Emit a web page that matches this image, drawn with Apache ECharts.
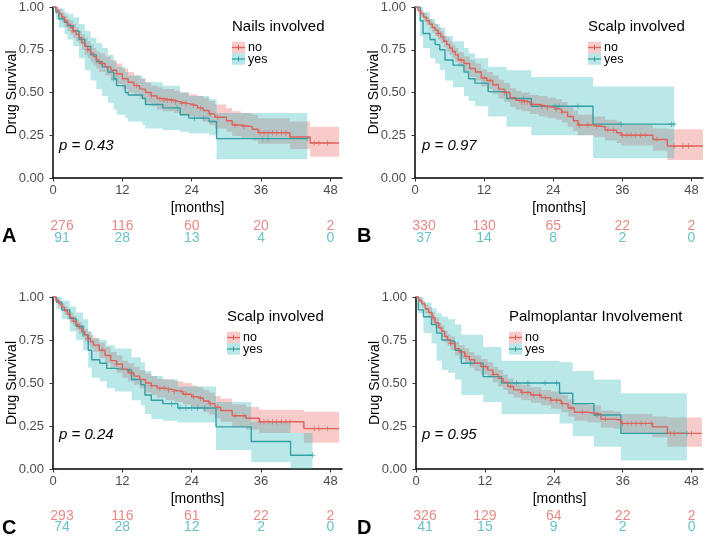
<!DOCTYPE html>
<html><head><meta charset="utf-8">
<script src="https://cdn.jsdelivr.net/npm/echarts@6/dist/echarts.min.js"></script>
<style>html,body{margin:0;padding:0;background:#fff}#c{width:710px;height:538px}</style>
</head><body><div id="c"></div>
<script>
// ---------- tick labels / breaks ----------
const timeBreaks = [0, 12, 24, 36, 48];
const survTicks = [0, 0.25, 0.5, 0.75, 1];

// ---------- Panel A : Nails involved ----------
const A_noT  = [0,0.5,1,1.5,2,2.5,3,3.5,4,4.5,5,5.5,6,6.5,7,7.5,8,9,10,11,12,13,14,15,16,17,18,19,21,22,23.5,25,26,27,28,30,31,32.5,34.5,35.5,41,44.5,49.5];
const A_noS  = [1,.98,.96,.94,.92,.90,.88,.86,.84,.82,.79,.77,.75,.73,.71,.69,.67,.65,.63,.61,.58,.56,.54,.52,.50,.48,.465,.455,.445,.435,.425,.41,.395,.375,.355,.335,.31,.30,.285,.265,.24,.205,.205];
const A_noLo = [1,.96,.93,.91,.88,.86,.84,.82,.80,.78,.75,.72,.70,.68,.66,.64,.62,.60,.57,.55,.52,.50,.48,.46,.44,.42,.40,.39,.38,.37,.36,.345,.33,.31,.29,.27,.245,.235,.22,.20,.17,.125,.125];
const A_noHi = [1,1,.99,.97,.95,.93,.92,.90,.88,.86,.84,.82,.80,.78,.76,.74,.73,.71,.69,.67,.64,.62,.60,.58,.56,.54,.53,.52,.51,.50,.49,.48,.47,.45,.43,.41,.39,.38,.37,.35,.33,.30,.30];
const A_noCens = [3.5,6,8.5,11,14.5,17,18.5,19.2,19.8,20.5,21.2,22.3,23,24.3,25.5,27.2,28.5,31.5,33,35.8,36.5,37.2,38,38.7,39.5,40.3,45.2,46,47.5];
const A_yesT  = [0,0.5,1,2,2.5,3.5,4.5,5.5,6.5,7.5,8.5,9.5,10.5,11,12.5,13,15.5,16,19,22,23.5,27,28.3,44];
const A_yesS  = [1,.97,.93,.91,.89,.86,.81,.77,.72,.68,.65,.62,.58,.54,.50,.485,.465,.43,.41,.37,.35,.33,.23,.23];
const A_yesLo = [1,.93,.88,.84,.81,.77,.70,.63,.57,.52,.48,.44,.40,.37,.35,.33,.31,.29,.28,.27,.26,.25,.11,.11];
const A_yesHi = [1,1,.99,.97,.96,.94,.90,.86,.82,.79,.76,.72,.68,.65,.62,.60,.58,.56,.54,.50,.48,.46,.38,.38];
const A_yesCens = [10.5,21.5,24.5,26,36.3,37.2,44];
const A_riskNo  = [276,116,60,20,2];
const A_riskYes = [91,28,13,4,0];

// ---------- Panel B : Scalp involved ----------
const B_noT  = [0,0.5,1,1.5,2,2.5,3,3.5,4,4.5,5,5.5,6,6.5,7,7.5,8.5,9.5,10.5,11.5,12.5,13.5,14.5,15.5,16.5,17.5,18.5,20,21.5,23,24.5,25.5,26.5,27.5,28.3,31,33,35,35.8,41.3,43.8,50];
const B_noS  = [1,.98,.96,.94,.92,.90,.88,.865,.845,.825,.80,.78,.76,.74,.72,.69,.67,.64,.62,.585,.57,.545,.52,.50,.47,.455,.445,.43,.42,.41,.40,.385,.36,.335,.31,.30,.28,.265,.25,.225,.187,.187];
const B_noLo = [1,.965,.94,.915,.895,.87,.85,.83,.81,.79,.765,.74,.72,.70,.68,.65,.62,.59,.57,.535,.52,.49,.465,.445,.415,.40,.39,.375,.36,.35,.34,.325,.30,.275,.25,.24,.22,.205,.19,.16,.105,.105];
const B_noHi = [1,.995,.98,.965,.945,.93,.91,.90,.88,.86,.835,.82,.80,.78,.76,.735,.71,.69,.67,.635,.62,.60,.575,.555,.525,.51,.50,.485,.48,.47,.46,.445,.42,.395,.37,.36,.34,.33,.31,.29,.285,.285];
const B_noCens = [4,8,12,13,15.5,18.5,19,19.5,20.5,22,23,24.5,25.5,28.5,30,31.5,33.5,34.5,36,36.8,37.5,38.3,39.2,40,42,45,46.5,47.5];
const B_yesT  = [0,0.9,1.4,2.6,3.5,4.3,5.2,6.6,8.5,9.3,10.4,12.7,15.9,20.2,30.9,45];
const B_yesS  = [1,.92,.845,.81,.78,.75,.69,.66,.62,.58,.555,.505,.465,.42,.315,.315];
const B_yesLo = [1,.83,.76,.70,.67,.63,.57,.53,.48,.45,.42,.36,.30,.25,.115,.115];
const B_yesHi = [1,1,.97,.93,.90,.88,.83,.80,.76,.73,.70,.65,.63,.59,.535,.535];
const B_yesCens = [18.8,24.3,25,28.3,35.8,44.5,45];
const B_riskNo  = [330,130,65,22,2];
const B_riskYes = [37,14,8,2,0];

// ---------- Panel C : Scalp involved ----------
const C_noT  = [0,0.5,1,1.5,2,2.5,3,3.5,4,4.5,5,5.5,6,6.5,7,8,9,10,11,12,13,14,15,16,17,18,19.5,21,22.5,24,25,26,27,28,29,31,33.4,35.7,43.4,49.5];
const C_noS  = [1,.98,.96,.94,.92,.90,.88,.86,.84,.82,.80,.78,.76,.74,.72,.69,.66,.63,.61,.58,.56,.54,.52,.50,.485,.47,.46,.45,.435,.42,.41,.395,.38,.36,.34,.31,.295,.275,.235,.235];
const C_noLo = [1,.965,.94,.915,.895,.87,.85,.83,.81,.785,.765,.74,.72,.70,.68,.645,.615,.585,.56,.53,.51,.49,.47,.445,.43,.415,.40,.39,.375,.36,.35,.33,.315,.295,.275,.245,.23,.21,.153,.153];
const C_noHi = [1,.995,.98,.965,.945,.93,.91,.89,.87,.855,.835,.815,.80,.78,.76,.735,.71,.68,.66,.63,.615,.595,.575,.555,.54,.525,.52,.51,.50,.485,.475,.46,.445,.425,.41,.375,.36,.345,.333,.333];
const C_noCens = [3.5,6,8.5,11,13.5,17,18.5,19.2,20,21,22.3,23,24.3,25.5,27.2,28.5,31.5,33,35.8,36.5,37.2,38,38.7,39.5,40.3,41,45.2,46,47.5];
const C_yesT  = [0,0.6,1.5,2.9,4,5.2,6.1,6.7,8.1,9.3,10.7,13.6,15.2,15.9,17,19,21.6,28.2,34.3,41.1,44.9];
const C_yesS  = [1,.97,.925,.875,.83,.78,.69,.635,.615,.585,.575,.52,.49,.43,.40,.38,.355,.245,.16,.08,.08];
const C_yesLo = [1,.93,.87,.80,.75,.69,.59,.53,.51,.47,.45,.40,.37,.32,.29,.28,.27,.11,.04,0,0];
const C_yesHi = [1,1,.98,.945,.91,.87,.80,.76,.75,.72,.70,.65,.62,.57,.54,.52,.48,.39,.275,.21,.21];
const C_yesCens = [13.2,20.5,22,23,24,25,26.2,44.9];
const C_riskNo  = [293,116,61,22,2];
const C_riskYes = [74,28,12,2,0];

// ---------- Panel D : Palmoplantar Involvement ----------
const D_noT  = [0,0.5,1,1.6,2.2,2.8,3.3,4,4.5,5,5.5,6,6.8,7.5,8.5,9.3,10.2,11.3,12.5,13.4,14.3,15.2,16,17,18.3,20,21.8,23.5,25.3,26.5,27.6,29.9,32.2,34.5,35.7,41.2,43.8,49.8];
const D_noS  = [1,.98,.96,.93,.91,.88,.85,.82,.80,.77,.75,.73,.70,.68,.655,.635,.615,.595,.575,.55,.527,.505,.48,.46,.445,.43,.415,.40,.38,.355,.33,.32,.29,.285,.265,.245,.207,.207];
const D_noLo = [1,.965,.94,.905,.88,.85,.82,.79,.765,.735,.715,.69,.66,.64,.61,.59,.57,.55,.53,.505,.48,.46,.435,.415,.40,.385,.37,.35,.33,.305,.28,.27,.24,.235,.21,.185,.13,.13];
const D_noHi = [1,.995,.98,.955,.94,.91,.88,.85,.835,.805,.785,.77,.74,.72,.70,.68,.66,.64,.62,.595,.575,.55,.525,.505,.49,.475,.46,.45,.43,.405,.38,.37,.34,.335,.32,.305,.30,.30];
const D_noCens = [3,6,8.7,12.2,13.5,16.5,18.5,19.5,20.5,21.5,22.5,23.5,24.5,25.5,27,29,31.5,33,36,36.8,37.5,38.3,39.2,40,41,44.3,45,48];
const D_yesT  = [0,0.4,1.3,2.7,3.6,4.5,5.6,6.8,7.9,11.7,14.9,25,27.3,31,35.7,47.2];
const D_yesS  = [1,.925,.885,.84,.79,.75,.74,.69,.615,.537,.50,.44,.38,.314,.207,.207];
const D_yesLo = [1,.905,.79,.73,.63,.575,.56,.52,.43,.39,.32,.265,.19,.13,.05,.05];
const D_yesHi = [1,1,.97,.935,.905,.885,.87,.84,.78,.71,.63,.62,.57,.52,.44,.44];
const D_yesCens = [9.5,17.5,19.5,22.5,24.5,31.5,47.2];
const D_riskNo  = [326,129,64,22,2];
const D_riskYes = [41,15,9,2,0];

const panelTitles = ['Nails involved', 'Scalp involved', 'Scalp involved', 'Palmoplantar Involvement'];
const pValues = ['0.43', '0.97', '0.24', '0.95'];
const panelLetters = ['A', 'B', 'C', 'D'];

// ---------- styling / layout ----------
const FONT = '"Liberation Sans", Arial, Helvetica, sans-serif';
const RED = '#DF625A', TEAL = '#34A0A5';
const RED_F = 'rgba(232,110,104,0.36)', TEAL_F = 'rgba(40,180,185,0.32)';
const RED_T = '#E06D66', TEAL_T = '#42B2B6';
const XMAX = 50;

const layout = [
  {grid:{left:53, top:7, width:289, height:171}, risk:{top:220, height:24}, leg:[232,27], letter:[2,236], pv:[59,146]},
  {grid:{left:415, top:7, width:288, height:171}, risk:{top:220, height:24}, leg:[588,27], letter:[357,236], pv:[422,146]},
  {grid:{left:53, top:297, width:289, height:172}, risk:{top:510, height:23}, leg:[227,317], letter:[2,528], pv:[59,435]},
  {grid:{left:416, top:297, width:287, height:172}, risk:{top:510, height:23}, leg:[509,317], letter:[357,528], pv:[422,435]}
];

const panelData = [
  {no:{T:A_noT,S:A_noS,Lo:A_noLo,Hi:A_noHi,C:A_noCens,R:A_riskNo}, yes:{T:A_yesT,S:A_yesS,Lo:A_yesLo,Hi:A_yesHi,C:A_yesCens,R:A_riskYes}},
  {no:{T:B_noT,S:B_noS,Lo:B_noLo,Hi:B_noHi,C:B_noCens,R:B_riskNo}, yes:{T:B_yesT,S:B_yesS,Lo:B_yesLo,Hi:B_yesHi,C:B_yesCens,R:B_riskYes}},
  {no:{T:C_noT,S:C_noS,Lo:C_noLo,Hi:C_noHi,C:C_noCens,R:C_riskNo}, yes:{T:C_yesT,S:C_yesS,Lo:C_yesLo,Hi:C_yesHi,C:C_yesCens,R:C_riskYes}},
  {no:{T:D_noT,S:D_noS,Lo:D_noLo,Hi:D_noHi,C:D_noCens,R:D_riskNo}, yes:{T:D_yesT,S:D_yesS,Lo:D_yesLo,Hi:D_yesHi,C:D_yesCens,R:D_riskYes}}
];

function stepAt(T, S, t) {
  let v = S[0];
  for (let i = 0; i < T.length; i++) if (T[i] <= t) v = S[i];
  return v;
}
const CROSS = 'path://M-0.14,-1L0.14,-1L0.14,-0.14L1,-0.14L1,0.14L0.14,0.14L0.14,1L-0.14,1L-0.14,0.14L-1,0.14L-1,-0.14L-0.14,-0.14Z';

const grids = [], xAxes = [], yAxes = [], series = [], graphics = [];

layout.forEach((L, p) => {
  const gMain = grids.length;
  grids.push(Object.assign({containLabel:false}, L.grid));
  grids.push({left:L.grid.left, width:L.grid.width, top:L.risk.top, height:L.risk.height});
  xAxes.push({
    gridIndex:gMain, type:'value', min:0, max:XMAX, interval:12,
    name:'[months]', nameLocation:'middle', nameGap:23, nameMoveOverlap:false,
    nameTextStyle:{color:'#000', fontSize:14, fontFamily:FONT},
    axisLine:{show:true, onZero:false, lineStyle:{color:'#000', width:1.5}},
    axisTick:{show:true, length:3.5, lineStyle:{color:'#333', width:1}},
    axisLabel:{color:'#4D4D4D', fontSize:13, fontFamily:FONT, margin:6, showMaxLabel:false},
    splitLine:{show:false}
  });
  xAxes.push({gridIndex:gMain+1, type:'value', min:0, max:XMAX, show:false});
  yAxes.push({
    gridIndex:gMain, type:'value', min:0, max:1, interval:0.25,
    name:'Drug Survival', nameLocation:'middle', nameGap:34, nameMoveOverlap:false,
    nameTextStyle:{color:'#000', fontSize:14, fontFamily:FONT},
    axisLine:{show:true, onZero:false, lineStyle:{color:'#000', width:1.5}},
    axisTick:{show:true, length:3.5, lineStyle:{color:'#333', width:1}},
    axisLabel:{color:'#4D4D4D', fontSize:13, fontFamily:FONT, margin:9, formatter:v => v.toFixed(2)},
    splitLine:{show:false}
  });
  yAxes.push({gridIndex:gMain+1, type:'category', data:['yes','no'], show:false});

  const D = panelData[p];
  const groups = [['no', D.no, RED, RED_F, RED_T], ['yes', D.yes, TEAL, TEAL_F, TEAL_T]];
  // bands
  groups.forEach(([name, g, lc, fc]) => {
    series.push({
      type:'custom', name:name, xAxisIndex:gMain, yAxisIndex:gMain, silent:true, z:1,
      data:[[0, 0]],
      renderItem:(params, api) => {
        const pts = [];
        const n = g.T.length;
        for (let i = 0; i < n - 1; i++) {
          pts.push(api.coord([g.T[i], g.Hi[i]]));
          pts.push(api.coord([g.T[i + 1], g.Hi[i]]));
        }
        for (let i = n - 2; i >= 0; i--) {
          pts.push(api.coord([g.T[i + 1], g.Lo[i]]));
          pts.push(api.coord([g.T[i], g.Lo[i]]));
        }
        return {type:'polygon', shape:{points:pts}, style:{fill:fc}};
      }
    });
  });
  // lines + censor marks
  [groups[1], groups[0]].forEach(([name, g, lc]) => {
    series.push({
      type:'line', name:name, xAxisIndex:gMain, yAxisIndex:gMain, step:'end', z:3,
      showSymbol:false, symbol:'none', silent:true,
      lineStyle:{color:lc, width:1.4}, data:g.T.map((t, i) => [t, g.S[i]])
    });
    series.push({
      type:'scatter', name:name, xAxisIndex:gMain, yAxisIndex:gMain, z:4, silent:true,
      symbol:CROSS, symbolSize:5.5, itemStyle:{color:lc},
      data:g.C.map(t => [t, stepAt(g.T, g.S, t)])
    });
  });
  // risk table
  groups.forEach(([name, g, lc, fc, tc]) => {
    series.push({
      type:'scatter', xAxisIndex:gMain+1, yAxisIndex:gMain+1, symbolSize:0, silent:true,
      data:timeBreaks.map((t, i) => ({
        value:[t, name, g.R[i]],
        label:{show:true, position:'inside', offset:[i === 0 ? 9 : 0, 0],
          formatter:pp => String(pp.value[2]), color:tc, fontSize:14, fontFamily:FONT}
      }))
    });
  });

  // legend (drawn with graphic primitives)
  const [lx, ly] = L.leg;
  graphics.push({type:'text', x:lx, y:ly, style:{text:panelTitles[p], fill:'#000', fontSize:15, fontFamily:FONT, verticalAlign:'middle'}});
  groups.forEach(([name, g, lc, fc], k) => {
    const cy = ly + 20.5 + k * 11.5;
    graphics.push({type:'rect', shape:{x:lx, y:cy - 5.75, width:13, height:11.5}, style:{fill:fc}});
    graphics.push({type:'line', shape:{x1:lx, y1:cy, x2:lx + 13, y2:cy}, style:{stroke:lc, lineWidth:1.3}});
    graphics.push({type:'line', shape:{x1:lx + 6.5, y1:cy - 2.5, x2:lx + 6.5, y2:cy + 2.5}, style:{stroke:lc, lineWidth:1}});
    graphics.push({type:'text', x:lx + 16, y:cy + 0.5, style:{text:name, fill:'#000', fontSize:12.5, fontFamily:FONT, verticalAlign:'middle'}});
  });
  // p value
  graphics.push({type:'text', x:L.pv[0], y:L.pv[1], style:{text:'p = ' + pValues[p], fill:'#000', fontSize:15, fontStyle:'italic', fontFamily:FONT, verticalAlign:'middle'}});
  // panel letter
  graphics.push({type:'text', x:L.letter[0], y:L.letter[1], style:{text:panelLetters[p], fill:'#000', fontSize:20, fontWeight:'bold', fontFamily:FONT, verticalAlign:'middle'}});
});

const chart = echarts.init(document.getElementById('c'), null, {renderer:'canvas'});
chart.setOption({
  animation:false,
  backgroundColor:'#fff',
  grid:grids, xAxis:xAxes, yAxis:yAxes, series:series,
  graphic:{elements:graphics}
});
</script>
</body></html>
